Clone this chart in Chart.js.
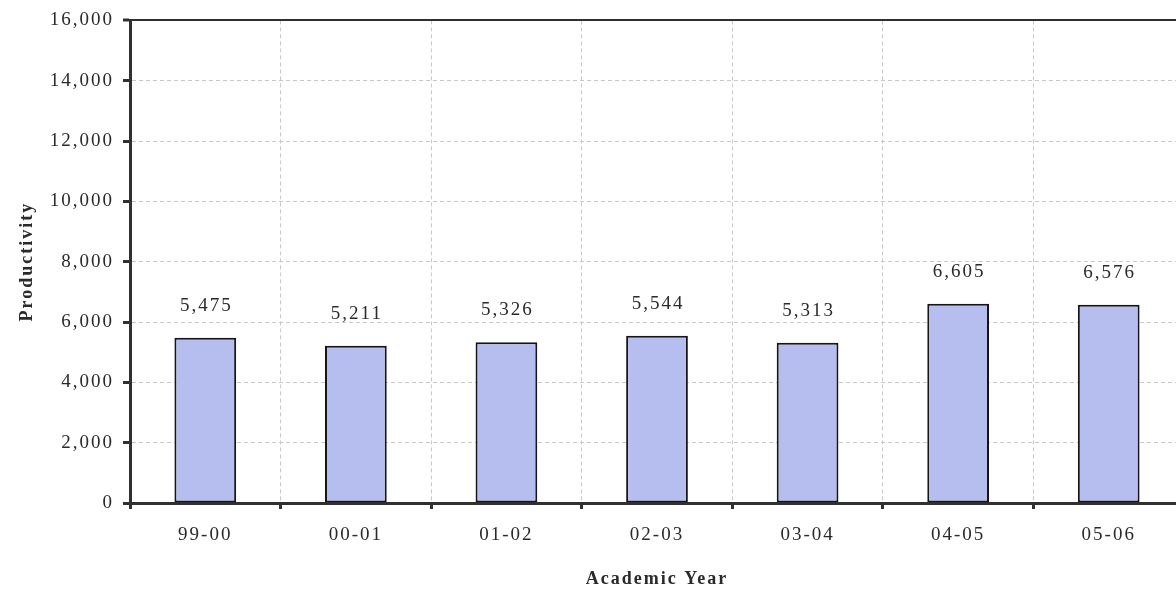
<!DOCTYPE html>
<html>
<head>
<meta charset="utf-8">
<script src="https://cdn.jsdelivr.net/npm/chart.js@4"></script>
<style>
html,body{margin:0;padding:0;background:#fff;overflow:hidden;}
#wrap{position:relative;width:1184px;height:592px;}
</style>
</head>
<body>
<div id="wrap"><canvas id="c"></canvas></div>
<script>
const categories = ['99-00','00-01','01-02','02-03','03-04','04-05','05-06'];
const productivity = [5475, 5211, 5326, 5544, 5313, 6605, 6576];
const yMin = 0, yMax = 16000, yStep = 2000;

const FONT = "'Liberation Serif', 'Times New Roman', serif";
const TXT = '#2a2a2a';
const GRID = '#c8c8c8';
const AXIS = '#303030';

const spacingPlugin = {
  id: 'spacing',
  beforeDraw(chart) { chart.ctx.letterSpacing = '2px'; },
  beforeUpdate(chart) { chart.ctx.letterSpacing = '2px'; }
};

const valueLabels = {
  id: 'valueLabels',
  afterDatasetsDraw(chart) {
    const ctx = chart.ctx;
    const meta = chart.getDatasetMeta(0);
    ctx.save();
    ctx.font = '19px ' + FONT;
    ctx.letterSpacing = '2px';
    ctx.fillStyle = TXT;
    ctx.textAlign = 'center';
    ctx.textBaseline = 'middle';
    meta.data.forEach((bar, i) => {
      const v = chart.data.datasets[0].data[i];
      ctx.fillText(v.toLocaleString('en-US'), bar.x + 1, bar.y - 32);
    });
    ctx.restore();
  }
};

new Chart(document.getElementById('c'), {
  type: 'bar',
  data: {
    labels: categories,
    datasets: [{
      data: productivity,
      backgroundColor: '#b6bef0',
      borderColor: '#151515',
      borderWidth: 2,
      borderSkipped: false,
      barPercentage: 0.41,
      categoryPercentage: 1
    }]
  },
  options: {
    responsive: true,
    maintainAspectRatio: false,
    animation: false,
    layout: { padding: { top: 19, left: 0, right: 0, bottom: 0 } },
    plugins: { legend: { display: false }, tooltip: { enabled: false } },
    scales: {
      x: {
        grid: {
          color: GRID, lineWidth: 1, offset: true,
          tickLength: 6, tickColor: AXIS, tickWidth: 3, tickBorderDash: []
        },
        border: { color: AXIS, width: 3, dash: [4, 3], z: 1 },
        ticks: { color: TXT, font: { family: FONT, size: 19 }, padding: 15, maxRotation: 0 },
        title: {
          display: true, text: 'Academic Year', color: TXT,
          font: { family: FONT, size: 18, weight: 'bold' }, padding: { top: 0, bottom: 2 }
        },
        afterFit(s) { s.height = 89; }
      },
      y: {
        min: yMin, max: yMax,
        grid: {
          color: c => (c.tick && c.tick.value === yMax) ? AXIS : GRID,
          lineWidth: c => (c.tick && c.tick.value === yMax) ? 2 : 1,
          tickLength: 7, tickColor: AXIS, tickWidth: 3, tickBorderDash: []
        },
        border: { color: AXIS, width: 3, dash: c => (c.tick && c.tick.value === yMax) ? [] : [4, 3] },
        ticks: {
          stepSize: yStep, color: TXT, padding: 9,
          font: { family: FONT, size: 19 },
          callback: v => Number(v).toLocaleString('en-US')
        },
        title: {
          display: true, text: 'Productivity', color: TXT,
          font: { family: FONT, size: 18, weight: 'bold' }, padding: { top: 17, bottom: 0 }
        },
        afterFit(s) { s.width = 130; }
      }
    }
  },
  plugins: [spacingPlugin, valueLabels]
});
</script>
</body>
</html>
